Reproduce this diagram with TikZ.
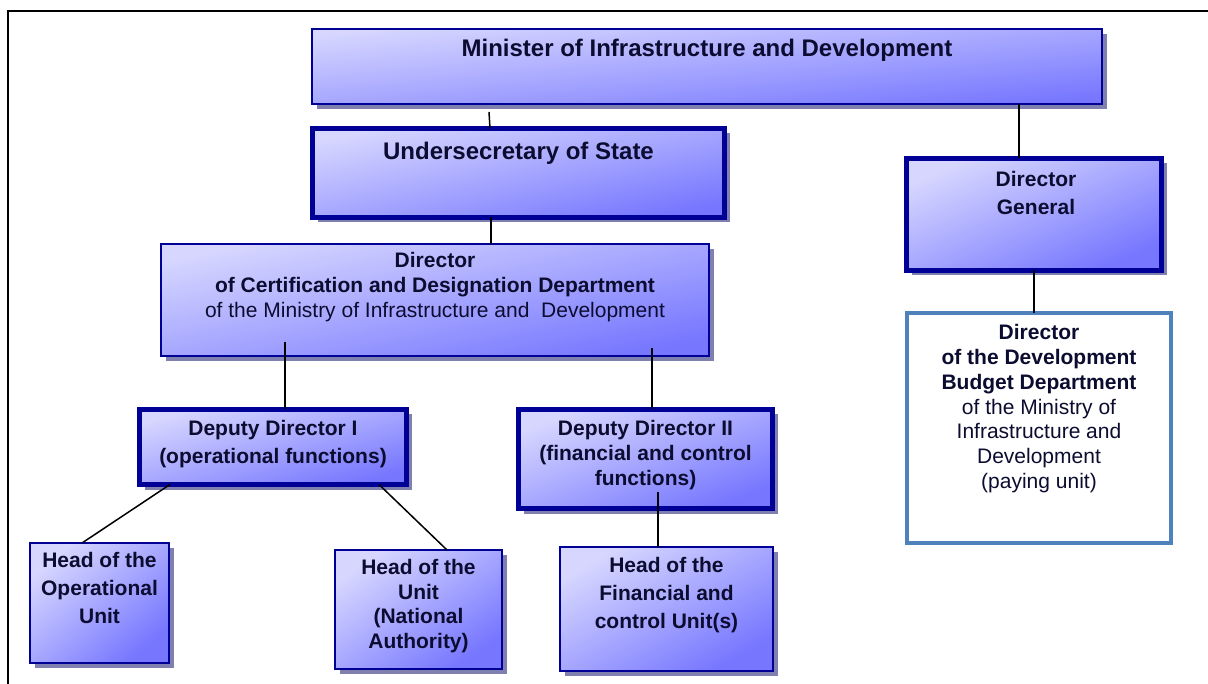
\documentclass[tikz,border=0pt]{standalone}
\usepackage{fontspec}
\setmainfont{Liberation Sans}
\usetikzlibrary{shadows}
\definecolor{navy}{RGB}{0,0,150}
\definecolor{lite}{RGB}{214,214,255}
\definecolor{dark}{RGB}{118,118,255}
\definecolor{shad}{RGB}{128,128,176}
\definecolor{steel}{RGB}{79,129,189}
\definecolor{ink}{RGB}{12,12,48}
\begin{document}
\begin{tikzpicture}[x=1pt,y=-1pt,
  boxbase/.style={inner sep=0pt, outer sep=0pt, anchor=north west,
    shading=axis, top color=lite, bottom color=dark, shading angle=#1,
    drop shadow={shadow xshift=5pt, shadow yshift=-5pt, fill=shad, opacity=1}},
  thinbox/.style={boxbase=#1, draw=navy, line width=2pt},
  thickbox/.style={boxbase=#1, draw=navy, line width=5pt},
  paybox/.style={inner sep=0pt, outer sep=0pt, anchor=north west, draw=steel, line width=4pt, fill=white},
  txt/.style={anchor=north, inner sep=0pt, align=center, text=ink, font=\fontsize{21}{24.7}\selectfont},
  bigtxt/.style={txt, font=\fontsize{24}{28}\selectfont\bfseries},
  wtxt/.style={txt, font=\fontsize{21}{28}\selectfont},
  conn/.style={line width=1.5pt, black}
]
\useasboundingbox (0,0) rectangle (1208,684);
\fill[white] (0,0) rectangle (1208,684);
% frame
\draw[line width=2pt] (1208,11) -- (7.5,11) -- (7.5,684);

% boxes
\node[thinbox=5.4, minimum width=790pt, minimum height=75pt] (min) at (312,29) {};
\node[thickbox=12.2, minimum width=412pt, minimum height=89pt] (und) at (312.5,128.5) {};
\node[thickbox=23.7, minimum width=255pt, minimum height=112pt] (dg) at (906.5,158.5) {};
\node[thinbox=11.6, minimum width=548pt, minimum height=112pt] (dcert) at (161,244) {};
\node[paybox, minimum width=264pt, minimum height=230pt] (dev) at (907,313) {};
\node[thickbox=15.7, minimum width=267pt, minimum height=75pt] (dep1) at (139.5,409.5) {};
\node[thickbox=21.3, minimum width=254pt, minimum height=99pt] (dep2) at (518.5,409.5) {};
\node[thinbox=40.8, minimum width=139pt, minimum height=120pt] (hop) at (30,543) {};
\node[thinbox=35.5, minimum width=167pt, minimum height=119pt] (hna) at (335,550) {};
\node[thinbox=30.2, minimum width=213pt, minimum height=124pt] (hfin) at (560,547) {};

% connectors
\draw[conn] ([xshift=-218pt,yshift=-8pt]min.south) -- ([xshift=-28.5pt]und.north);
\draw[conn] ([xshift=-27.5pt]und.south) -- ([xshift=56pt]dcert.north);
\draw[conn] ([xshift=312pt]min.south) -- ([xshift=-15pt]dg.north);
\draw[conn] (dg.south) -- ([xshift=-5pt]dev.north);
\draw[conn] ([xshift=-150pt,yshift=14pt]dcert.south) -- ([xshift=12pt]dep1.north);
\draw[conn] ([xshift=217pt,yshift=8pt]dcert.south) -- ([xshift=6.5pt]dep2.north);
\draw[conn] ([xshift=-103pt]dep1.south) -- ([xshift=-17.5pt]hop.north);
\draw[conn] ([xshift=106pt]dep1.south) -- ([xshift=28.5pt]hna.north);
\draw[conn] ([xshift=12.5pt,yshift=16.5pt]dep2.south) -- ([xshift=-8.5pt]hfin.north);

% texts
\node[bigtxt] (min-t) at (707,38.5) {Minister of Infrastructure and Development};
\node[bigtxt] (und-t) at (518.5,141.5) {Undersecretary of State};
\node[txt, font=\fontsize{21}{28}\selectfont\bfseries] (dg-t) at (1036,171.5) {Director\\General};
\node[txt] (dcert-t) at (435,252.5) {\textbf{Director}\\\textbf{of Certification and Designation Department}\\of the Ministry of Infrastructure and\ \ Development};
\node[txt] (dev-t) at (1039,324.5) {\textbf{Director}\\\textbf{of the Development}\\\textbf{Budget Department}\\of the Ministry of\\Infrastructure and\\Development\\(paying unit)};
\node[txt, font=\fontsize{21}{28}\selectfont\bfseries] (dep1-t) at (273,420.5) {Deputy Director I\\(operational functions)};
\node[txt, font=\fontsize{21}{25}\selectfont\bfseries] (dep2-t) at (645.5,420.5) {Deputy Director II\\(financial and control\\functions)};
\node[wtxt, font=\fontsize{21}{28}\selectfont\bfseries] (hop-t) at (99.5,552.5) {Head of the\\Operational\\Unit};
\node[txt, font=\fontsize{21}{24.5}\selectfont\bfseries] (hna-t) at (418.5,559.5) {Head of the\\Unit\\(National\\Authority)};
\node[wtxt, font=\fontsize{21}{28}\selectfont\bfseries] (hfin-t) at (666.5,557.5) {Head of the\\Financial and\\control Unit(s)};
\end{tikzpicture}
\end{document}
